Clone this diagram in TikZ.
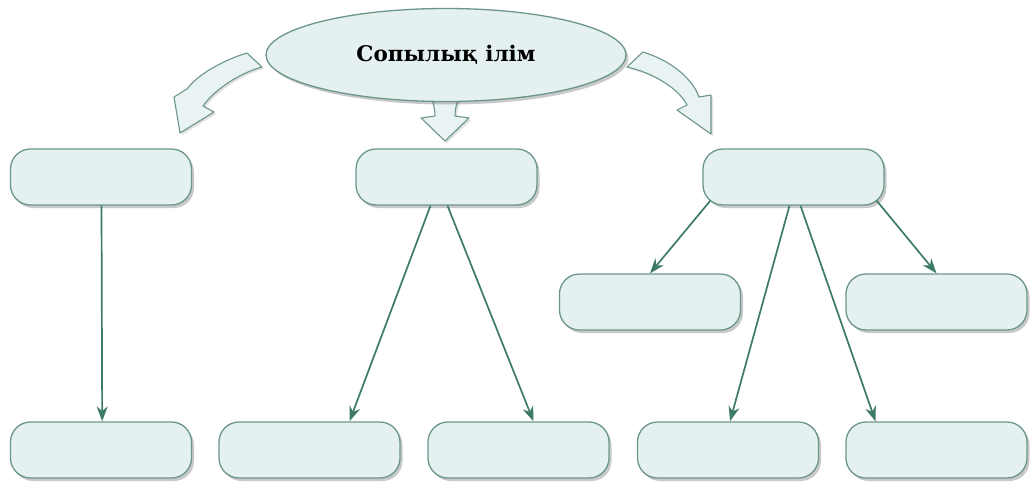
\documentclass[tikz,border=0pt]{standalone}
\usepackage{fontspec}
\newfontfamily\kzfont{DejaVu Serif}
\usetikzlibrary{shapes.geometric,arrows.meta,shadows}
\definecolor{boxfill}{HTML}{E5F0F0}
\definecolor{boxline}{HTML}{6B968C}
\definecolor{linkcol}{HTML}{3E7A68}
\tikzset{
	shade/.style={drop shadow={shadow xshift=2.5pt,shadow yshift=-3pt,opacity=0.3,fill=black!70}},
	box/.style={draw=boxline,fill=boxfill,line width=1.3pt,rounded corners=20pt,minimum width=181pt,minimum height=56pt,shade},
	topic/.style={ellipse,draw=boxline,fill=boxfill,line width=1.3pt,minimum width=360pt,minimum height=93pt,shade,font=\kzfont\bfseries\fontsize{21.5}{26}\selectfont},
	fat/.style={draw=boxline,fill=boxfill!80!white,line width=1.1pt,line join=round,drop shadow={shadow xshift=2pt,shadow yshift=-2pt,opacity=0.2,fill=black!60}},
	link/.style={draw=linkcol,line width=1.7pt,-{Stealth[length=15pt,width=11pt]}}
}
\begin{document}
\begin{tikzpicture}[x=1pt,y=-1pt]
		\useasboundingbox (0,0) rectangle (1031,482);

		\draw[fat] (247,53) .. controls (224,60) and (198,74) .. (187,89) -- (174,97) -- (180,133) -- (214,112) -- (203,106) .. controls (215,89) and (240,73) .. (262,67) -- cycle;
		\draw[fat] (427,86) .. controls (432,98) and (435,107) .. (435,116) -- (421,118) -- (445,141) -- (469,118) -- (455,116) .. controls (455,107) and (458,98) .. (464,86) -- cycle;
		\draw[fat] (643,52) .. controls (666,59) and (691,75) .. (699,97) -- (711,95) -- (711,134) -- (677,110) -- (687,105) .. controls (679,89) and (654,73) .. (627,67) -- cycle;

		\node[topic] (top) at (446, 55) {Сопылық ілім};

		\node[box] (l1) at (101,177) {};
		\node[box] (m1) at (446.5,177) {};
		\node[box] (r1) at (793.5,177) {};

		\node[box] (r2a) at (650,302) {};
		\node[box] (r2b) at (936.5,302) {};

		\node[box] (b1) at (101,450) {};
		\node[box] (b2) at (309.5,450) {};
		\node[box] (b3) at (518.5,450) {};
		\node[box] (b4) at (728,450) {};
		\node[box] (b5) at (936.5,450) {};

		\draw[link] ([xshift=0.5pt]l1.south) to ([xshift=1.2pt]b1.north);

		\draw[link] ([xshift=-16pt]m1.south) to ([xshift=40pt]b2.north);
		\draw[link] ([xshift=1pt]m1.south) to ([xshift=15pt]b3.north);

		\draw[link] ([xshift=8pt,yshift=5pt]r1.south west) to (r2a.north);
		\draw[link] ([xshift=-8pt,yshift=5pt]r1.south east) to (r2b.north);
		\draw[link] ([xshift=-4pt]r1.south) to ([xshift=2pt]b4.north);
		\draw[link] ([xshift=7pt]r1.south) to ([xshift=-61pt]b5.north);

	\end{tikzpicture}
\end{document}
